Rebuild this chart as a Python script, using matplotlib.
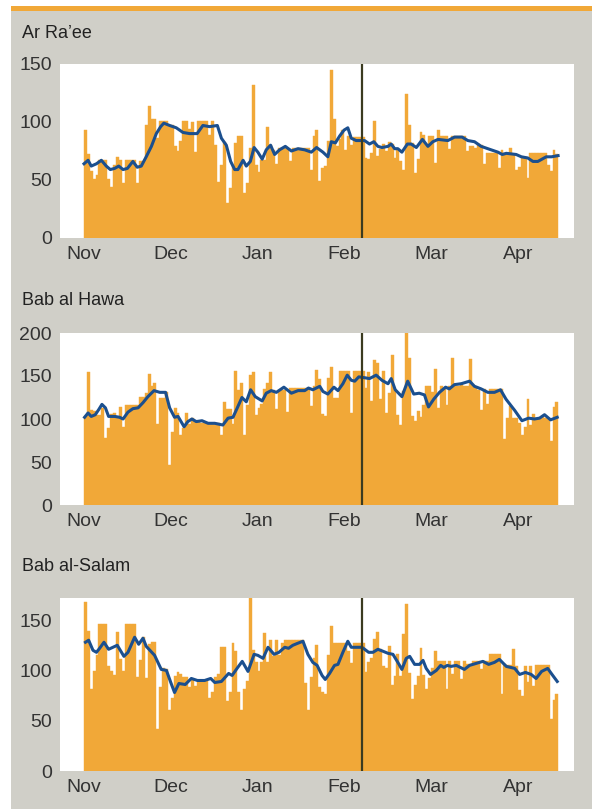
import matplotlib
matplotlib.use("Agg")
import matplotlib.pyplot as plt
from matplotlib import font_manager
from matplotlib.patches import Rectangle

# ---------------- data ----------------
months = ["Nov", "Dec", "Jan", "Feb", "Mar", "Apr"]
month_ticks = [0, 30, 60, 90, 120, 150]
marker_day = 96

ra_bars = [93, 72, 58, 51, 54, 67, 67, 67, 51, 44, 63, 70, 67, 47, 67, 67, 67, 67, 47, 66,
           66, 97, 114, 103, 103, 86, 101, 101, 101, 97, 97, 79, 75, 84, 101, 101, 94, 100, 74, 101,
           101, 101, 101, 89, 101, 80, 48, 63, 83, 30, 43, 62, 82, 88, 88, 39, 47, 78, 132, 63,
           57, 67, 67, 96, 80, 76, 64, 78, 78, 78, 78, 66, 78, 78, 78, 78, 78, 78, 59, 88,
           93, 49, 60, 62, 84, 145, 103, 79, 85, 93, 76, 88, 80, 87, 87, 87, 87, 69, 68, 73,
           101, 71, 77, 81, 75, 83, 81, 69, 76, 66, 59, 124, 97, 82, 56, 68, 91, 89, 80, 88,
           88, 65, 93, 88, 88, 88, 77, 88, 88, 88, 88, 88, 75, 79, 79, 78, 81, 80, 64, 73,
           73, 73, 73, 60, 76, 73, 73, 78, 72, 59, 61, 70, 70, 52, 73, 73, 73, 73, 73, 73,
           63, 58, 76, 72]
ra_line = [(0, 64), (1.4, 67), (2.5, 62), (4.3, 64), (6, 67), (7.7, 62), (9.1, 59), (10.6, 60),
           (12, 62), (13.5, 59), (15, 60), (16.9, 66), (18.4, 61), (19.8, 62), (21.5, 70), (23.3, 79),
           (25, 90), (26.5, 96), (27.6, 99), (29.6, 97), (31.9, 95), (34.2, 91), (36.5, 90), (39.1, 90),
           (41.1, 97), (43.4, 96), (46.1, 97), (47.5, 86), (49.2, 80), (50.7, 66), (52.1, 59), (53.2, 59),
           (55, 67), (56.1, 62), (57.5, 66), (58.8, 78), (60.1, 74), (61.6, 68), (63, 76), (64.5, 80),
           (65.9, 72), (67.6, 76), (69.6, 79), (71.7, 75), (74, 77), (76.3, 76), (78.6, 74), (80.4, 78),
           (82.6, 74), (84.3, 70), (85.5, 83), (86.9, 82), (88.4, 88), (89.9, 93), (91.2, 95), (92.4, 86),
           (94.1, 84), (97, 84), (98.7, 81), (100.2, 83), (101.6, 79), (103, 78), (105.1, 79), (106.2, 81),
           (107.4, 77), (108.5, 77), (109.9, 74), (111.8, 81), (113.1, 81), (114.9, 78), (117, 85), (118.9, 79),
           (120.6, 83), (122.4, 85), (125.8, 84), (128.1, 87), (130.7, 87), (132.7, 84), (135, 83), (137.3, 79),
           (139.6, 77), (143.1, 74), (144.6, 72), (146, 73), (149.4, 72), (151.2, 70), (153.4, 69), (155.2, 66),
           (156.9, 66), (159.8, 70), (161.6, 70), (163.9, 71)]

hawa_bars = [103, 155, 110, 109, 105, 105, 113, 78, 90, 106, 107, 102, 114, 91, 116, 116, 116, 116, 116, 126,
             126, 130, 152, 138, 142, 94, 124, 124, 131, 46, 85, 113, 107, 81, 90, 107, 94, 101, 96, 96,
             95, 97, 95, 95, 94, 95, 95, 81, 120, 112, 112, 94, 156, 134, 142, 81, 116, 151, 155, 105,
             113, 117, 135, 142, 155, 134, 112, 134, 134, 134, 108, 136, 136, 136, 136, 136, 136, 136, 115, 138,
             157, 147, 106, 103, 148, 160, 124, 124, 156, 156, 156, 156, 107, 156, 156, 156, 156, 136, 155, 121,
             169, 165, 123, 156, 107, 130, 174, 133, 105, 93, 133, 202, 171, 103, 98, 109, 102, 116, 138, 138,
             131, 158, 113, 138, 135, 116, 138, 171, 138, 138, 142, 138, 138, 170, 138, 136, 134, 110, 135, 117,
             135, 135, 135, 135, 135, 77, 101, 115, 101, 101, 95, 81, 91, 123, 93, 106, 101, 101, 103, 101,
             101, 74, 114, 120]
hawa_line = [(0.2, 102), (1.4, 107), (2.5, 103), (3.9, 105), (5.1, 111), (6.2, 117), (7.4, 113), (8.5, 103),
             (10.6, 103), (12.3, 102), (13.5, 100), (15.2, 108), (16.9, 112), (18.7, 113), (20.4, 119), (22.1, 126),
             (24.2, 133), (26.2, 131), (28.2, 131), (29.6, 113), (31.3, 102), (32.5, 103), (34.6, 91), (35.9, 97),
             (37.3, 100), (38.8, 97), (40.8, 98), (42.9, 95), (45.2, 95), (48, 93), (49.8, 101), (51.5, 102),
             (53, 113), (54.6, 125), (56.1, 120), (57.6, 134), (59.2, 126), (61.6, 121), (63, 130), (64.7, 133),
             (66.5, 131), (69.1, 137), (71.7, 130), (74, 133), (76.3, 133), (77.6, 136), (79.1, 134), (81.5, 138),
             (82.6, 132), (84.3, 129), (86.4, 137), (87.8, 133), (89.5, 141), (91, 151), (92.4, 145), (93.6, 144),
             (95, 149), (97, 148), (98.7, 147), (101, 151), (103, 145), (105.1, 141), (106.2, 147), (107.6, 134),
             (109.9, 126), (111.9, 144), (114, 129), (115.9, 130), (117.7, 128), (119.1, 114), (120.9, 123), (122.9, 131),
             (125, 137), (126.3, 135), (128.1, 140), (130.4, 141), (133.3, 144), (135, 138), (137.3, 135), (139.6, 131),
             (141.9, 131), (144, 134), (145.9, 123), (148.9, 110), (151.4, 98), (153.7, 101), (155.7, 100), (157.5, 101),
             (159.2, 105), (161.3, 99), (163.6, 102)]

salam_bars = [168, 139, 82, 99, 115, 146, 146, 146, 104, 99, 95, 138, 111, 99, 146, 146, 146, 146, 93, 110,
              133, 92, 126, 128, 128, 42, 84, 102, 101, 61, 73, 94, 98, 96, 93, 93, 84, 91, 85, 90,
              90, 90, 90, 73, 79, 93, 96, 123, 123, 70, 79, 127, 119, 79, 61, 82, 89, 173, 120, 108,
              99, 108, 137, 108, 130, 114, 130, 115, 127, 130, 130, 130, 130, 130, 130, 130, 87, 61, 93, 112,
              125, 84, 79, 77, 115, 144, 127, 127, 127, 127, 127, 119, 107, 127, 127, 127, 127, 98, 108, 112,
              131, 138, 121, 104, 102, 124, 86, 94, 116, 94, 136, 166, 97, 72, 86, 94, 122, 95, 82, 92,
              102, 119, 109, 109, 109, 82, 109, 96, 109, 109, 91, 109, 106, 106, 109, 109, 109, 101, 109, 109,
              116, 116, 116, 116, 77, 106, 105, 105, 121, 104, 81, 75, 104, 88, 104, 85, 105, 105, 105, 105,
              105, 52, 71, 77]
salam_line = [(0.5, 128), (1.6, 130), (3.1, 120), (4.3, 118), (5.4, 122), (6.9, 128), (8.5, 121), (10, 123),
              (11.5, 125), (13.8, 114), (15.2, 118), (17.5, 133), (18.9, 126), (20.4, 132), (21.5, 124), (24.4, 115),
              (26.7, 101), (28.5, 100), (30, 88), (31.3, 78), (32.8, 87), (35, 86), (37.1, 92), (39.2, 90),
              (41.7, 90), (43.8, 92), (45.2, 88), (47.5, 89), (50, 97), (51.2, 95), (52.9, 102), (54.7, 109),
              (56.7, 99), (58.8, 116), (60.1, 115), (61.9, 112), (63.6, 123), (65.7, 116), (67.4, 118), (69.4, 123),
              (70.7, 122), (72.2, 125), (73.9, 127), (75.7, 129), (77.4, 116), (79.1, 108), (80.6, 105), (82.3, 95),
              (83.4, 91), (84.9, 97), (86.6, 105), (87.8, 106), (89.5, 118), (91.2, 129), (92.4, 123), (96.1, 123),
              (98.4, 118), (99.9, 118), (101.6, 121), (103.4, 119), (105.1, 117), (106.8, 116), (108.5, 108), (109.9, 101),
              (111.4, 112), (112.6, 114), (114.3, 106), (116, 106), (117.2, 110), (118.3, 102), (119.8, 96), (121.8, 100),
              (123.3, 105), (124.4, 103), (125.6, 105), (126.9, 104), (128.7, 105), (131.5, 101), (133.3, 105), (135.6, 107),
              (137.9, 109), (139.9, 106), (141.9, 108), (143.6, 111), (146, 104), (148.9, 102), (150.6, 96), (152.6, 98),
              (154.6, 96), (156.3, 92), (158.2, 99), (160.3, 102), (161.8, 96), (163.6, 89)]

panels = [
    ("Ar Ra\u2019ee", ra_bars, ra_line, 150, [0, 50, 100, 150]),
    ("Bab al Hawa", hawa_bars, hawa_line, 200, [0, 50, 100, 150, 200]),
    ("Bab al-Salam", salam_bars, salam_line, 172, [0, 50, 100, 150]),
]

# ---------------- style ----------------
available = {f.name for f in font_manager.fontManager.ttflist}
font = "Liberation Sans Narrow" if "Liberation Sans Narrow" in available else "Liberation Sans"
plt.rcParams["font.family"] = [font, "DejaVu Sans"]

BG = "#d0cfc8"
ORANGE = "#f1a838"
BLUE = "#1b4f8e"
TEXT = "#333333"

W, H = 592, 809
fig = plt.figure(figsize=(W / 100, H / 100), dpi=100)
fig.patch.set_facecolor("white")

# gray panel + orange rule on top
fig.patches.append(Rectangle((11 / W, 0), 1 - 11 / W, 1 - 11 / H, transform=fig.transFigure,
                             facecolor=BG, edgecolor="none", zorder=-2))
fig.patches.append(Rectangle((11 / W, 1 - 11 / H), 1 - 11 / W, 5 / H, transform=fig.transFigure,
                             facecolor=ORANGE, edgecolor="none", zorder=-1))

# pixel boxes (top, bottom) of each plot area and title baselines
boxes = [(64, 238), (333, 505), (598, 771)]
title_base = [38, 305, 571]
left_px, right_px = 60, 574

for (title, bars, line, ymax, yticks), (top, bot), tb in zip(panels, boxes, title_base):
    ax = fig.add_axes([left_px / W, 1 - bot / H, (right_px - left_px) / W, (bot - top) / H])
    ax.set_facecolor("white")
    days = list(range(len(bars)))
    ax.bar(days, bars, width=1.0, align="edge", color=ORANGE, edgecolor=ORANGE, linewidth=0.3, zorder=1)
    lx = [p[0] for p in line]
    ly = [p[1] for p in line]
    ax.plot(lx, ly, color=BLUE, linewidth=2.2, solid_joinstyle="round", zorder=3)
    ax.axvline(marker_day, color="#3b3b20", linewidth=1.6, zorder=4)

    ax.set_xlim(-8.3, 169.4)
    ax.set_ylim(0, ymax)
    ax.set_yticks(yticks)
    ax.set_xticks(month_ticks)
    ax.set_xticklabels(months)
    ax.tick_params(axis="both", length=0, labelsize=14, colors=TEXT)
    ax.tick_params(axis="y", pad=6)
    ax.tick_params(axis="x", pad=6)
    for s in ax.spines.values():
        s.set_visible(False)

    fig.text(22 / W, 1 - tb / H, title, fontsize=13, color="#222222", va="baseline", ha="left")

fig.savefig("out.png", dpi=100, facecolor=fig.get_facecolor())
